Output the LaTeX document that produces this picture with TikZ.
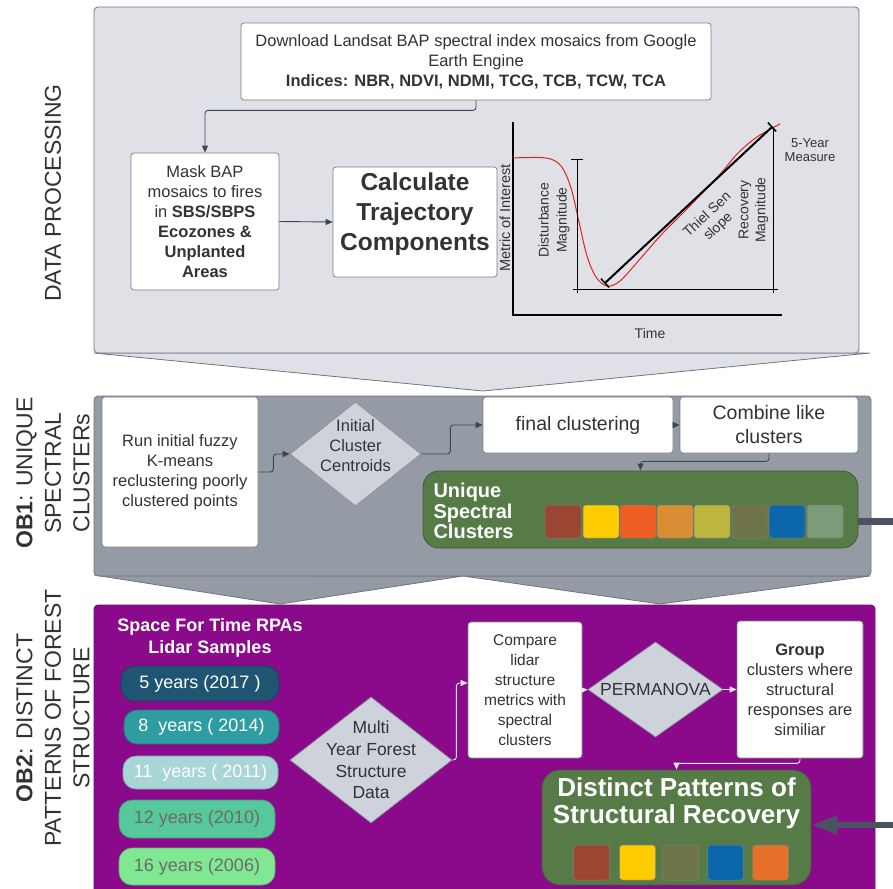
\documentclass[tikz,border=0pt]{standalone}
\usepackage{fontspec}
\setmainfont{Liberation Sans}
\usetikzlibrary{shapes.geometric,arrows.meta,calc}
\definecolor{pone}{HTML}{DFE1E6}
\definecolor{ptwo}{HTML}{959BA5}
\definecolor{pln}{HTML}{6E7580}
\definecolor{purp}{HTML}{8B0A8B}
\definecolor{boxln}{HTML}{7A7F88}
\definecolor{txt}{HTML}{333333}
\definecolor{dialn}{HTML}{8A919C}
\definecolor{diafill}{HTML}{CED3DB}
\definecolor{conln}{HTML}{3E4552}
\definecolor{wline}{HTML}{F0E6F0}
\definecolor{grn}{HTML}{567B47}
\definecolor{grnln}{HTML}{3F5A36}
\definecolor{thickc}{HTML}{4B5262}
\definecolor{curvec}{HTML}{E0221C}
\definecolor{pa}{HTML}{1F5573}\definecolor{pad}{HTML}{163F55}
\definecolor{pb}{HTML}{2E9DA1}\definecolor{pbd}{HTML}{217478}
\definecolor{pc}{HTML}{A8D5D5}\definecolor{pcd}{HTML}{7FA8A8}
\definecolor{pd}{HTML}{56C89B}\definecolor{pdd}{HTML}{3E9A74}
\definecolor{pe}{HTML}{80E892}\definecolor{ped}{HTML}{5DB86E}
\definecolor{ptxt}{HTML}{6B6B6B}
\definecolor{ca}{HTML}{9B4533}
\definecolor{cb}{HTML}{FFCC00}
\definecolor{cc}{HTML}{EE5E24}
\definecolor{cd}{HTML}{D98D34}
\definecolor{ce}{HTML}{BDB63E}
\definecolor{cf}{HTML}{6F7448}
\definecolor{cg}{HTML}{0B66AB}
\definecolor{ch}{HTML}{7B9B79}
\definecolor{ci}{HTML}{E4702A}
\newcommand\fsz[2]{\fontsize{#1}{#2}\selectfont}
\begin{document}
\begin{tikzpicture}[x=1pt,y=-1pt,
  every node/.style={text=txt},
  box/.style={draw=boxln, fill=white, rounded corners=3pt, inner sep=0pt, align=center, line width=0.7pt},
  sz/.style 2 args={minimum width=#1pt, minimum height=#2pt},
  dia/.style={diamond, draw=dialn, fill=diafill, inner sep=0pt, line width=0.7pt},
  conn/.style={draw=conln, line width=0.9pt, rounded corners=3pt, -{Triangle[length=7pt,width=6pt]}},
  wconn/.style={conn, draw=wline},
  pill/.style={rounded corners=13pt, inner sep=0pt, line width=0.7pt, font=\fsz{18}{20}},
  sq/.style={minimum width=36pt, minimum height=33pt, rounded corners=3pt, inner sep=0pt, draw=black!50, line width=0.5pt},
  greenbox/.style={fill=grn, draw=grnln, rounded corners=16pt, line width=0.8pt, inner sep=0pt},
  side/.style={rotate=90, align=center, font=\fsz{23}{28.5}, text=txt},
]
\useasboundingbox (0,0) rectangle (893,888);
\fill[white] (0,0) rectangle (893,888);

% ---------- panels
\filldraw[fill=pone, draw=pln, line width=0.8pt] (94,353) -- (483,391) -- (870,353) -- cycle;
\filldraw[fill=pone, draw=pln, line width=0.8pt, rounded corners=4pt] (94,7) rectangle (859,353);

\filldraw[fill=ptwo, draw=pln, line width=0.8pt] (94,575) -- (280,604) -- (463,576) -- cycle;
\filldraw[fill=ptwo, draw=pln, line width=0.8pt] (463,576) -- (660,604) -- (870,576) -- cycle;
\filldraw[fill=ptwo, draw=pln, line width=0.8pt, rounded corners=4pt] (94,396) rectangle (871,576);

\filldraw[fill=purp, draw=purp!80!black, line width=0.8pt, rounded corners=4pt] (94,605) rectangle (875,900);

% ---------- side titles
\node[side] (tdp) at (53,193) {DATA PROCESSING};
\node[side] (tob1) at (53,473) {\textbf{OB1}: UNIQUE\\SPECTRAL\\CLUSTERs};
\node[side] (tob2) at (53,718) {\textbf{OB2}: DISTINCT\\PATTERNS OF FOREST\\STRUCTURE};

% ---------- data processing
\node[box, sz={470}{77}, font=\fsz{16.5}{20}] (dl) at (476,61.5) {Download Landsat BAP spectral index mosaics from Google\\Earth Engine\\\textbf{Indices: NBR, NDVI, NDMI, TCG, TCB, TCW, TCA}};
\node[box, sz={148}{137}, font=\fsz{16.5}{20}] (mask) at (205,221.5) {Mask BAP\\mosaics to fires\\in \textbf{SBS/SBPS}\\\textbf{Ecozones \&}\\\textbf{Unplanted}\\\textbf{Areas}};
\node[box, sz={164}{110}] (calc) at (415,222) {};
\node[align=center, font=\bfseries\fsz{24.5}{30}] (calct) at (415,214) {Calculate\\Trajectory\\Components};
\draw[conn] (dl.south) -- ++(0,10) -| (mask.north);
\draw[conn] (mask.east) -- (calc.west);

% graph
\draw[line width=1.8pt, black] (513,122) -- (513,315) -- (782,315);
\draw[curvec, line width=1pt] plot[smooth, tension=0.55] coordinates {(513,158) (546,158) (561,166) (571,188) (579,222) (587,256) (596,277) (607,286) (620,281) (640,259) (662,234) (685,211) (705,190) (722,172) (738,153) (757,137) (780,124)};
\draw[line width=1pt, black] (571,159) -- (583,159) (577,159) -- (577,293) (573,289) -- (778,289) (773,127) -- (773,293);
\draw[line width=2pt, black] (605,283) -- (772,127);
\draw[line width=1.5pt, black] (600.9,278.6) -- (609.1,287.4) (767.9,122.6) -- (776.1,131.4);
\node[rotate=90, font=\fsz{14.5}{16}] (gy) at (505,218) {Metric of Interest};
\node[rotate=90, align=center, font=\fsz{14}{18}] (gd) at (554,220) {Disturbance\\Magnitude};
\node[rotate=90, align=center, font=\fsz{14}{17}] (gr) at (753.5,210) {Recovery\\Magnitude};
\node[rotate=43, align=center, font=\fsz{14}{16}] (gt) at (713,221) {Thiel Sen\\slope};
\node[align=center, font=\fsz{13}{14}] (g5) at (810,150) {5-Year\\Measure};
\node[font=\fsz{14}{16}] (gtime) at (650,333) {Time};

% ---------- OB1
\node[box, sz={156}{150}, font=\fsz{16.5}{20}] (run) at (180,472) {Run initial fuzzy\\K-means\\reclustering poorly\\clustered points};
\node[dia, minimum width=131pt, minimum height=104pt] (init) at (355.5,454) {};
\node[align=center, font=\fsz{16.5}{20}] (initt) at (355.5,446) {Initial\\Cluster\\Centroids};
\node[box, sz={190}{56}, font=\fsz{19.5}{24}] (final) at (578,425) {final clustering};
\node[box, sz={178}{56}, font=\fsz{19.5}{24}] (comb) at (769,425) {Combine like\\clusters};
\node[greenbox, sz={435}{77}] (uniq) at (640.5,509.5) {};
\node[anchor=west, align=left, text=white, font=\bfseries\fsz{20}{20.5}] (uniqt) at (430,511) {Unique\\Spectral\\Clusters};
\node[sq, fill=ca] (s1) at (563,521.5) {};
\node[sq, fill=cb] (s2) at (601,521.5) {};
\node[sq, fill=cc] (s3) at (638,521.5) {};
\node[sq, fill=cd] (s4) at (675,521.5) {};
\node[sq, fill=ce] (s5) at (712,521.5) {};
\node[sq, fill=cf] (s6) at (750,521.5) {};
\node[sq, fill=cg] (s7) at (787,521.5) {};
\node[sq, fill=ch] (s8) at (825,521.5) {};
\draw[conn] (run.east) -- ++(15,0) |- (init.west);
\draw[conn] (init.east) -- ++(29,0) |- (final.west);
\draw[conn] (final.east) -- (comb.west);
\draw[conn] (comb.south) -- ++(0,8) -| (uniq.north);
\coordinate (rt1) at (893,521.5);
\draw[line width=7pt, thickc] (uniq.east |- rt1) -- (rt1);

% ---------- OB2
\node[align=center, text=white, font=\bfseries\fsz{18}{22}] (sft) at (210,638) {Space For Time RPAs\\Lidar Samples};
\node[pill, fill=pa, draw=pad, text=white, sz={158}{35}] (y5) at (200,683.5) {5 years (2017 )};
\node[pill, fill=pb, draw=pbd, text=white, sz={155}{34}] (y8) at (201.5,727) {8\ \ years ( 2014)};
\node[pill, fill=pc, draw=pcd, text=white, sz={155}{33}] (y11) at (200.5,772.5) {11\ \ years ( 2011)};
\node[pill, fill=pd, draw=pdd, text=ptxt, sz={156}{38}] (y12) at (197,819) {12 years (2010)};
\node[pill, fill=pe, draw=ped, text=ptxt, sz={156}{37}] (y16) at (197,866.5) {16 years (2006)};
\node[dia, minimum width=162pt, minimum height=126pt] (multi) at (371,760) {};
\node[align=center, font=\fsz{17.5}{21.7}] (multit) at (371,760) {Multi\\Year Forest\\Structure\\Data};
\node[box, sz={114}{136}, font=\fsz{15.5}{20}] (cmp) at (525,690) {Compare\\lidar\\structure\\metrics with\\spectral\\clusters};
\node[dia, minimum width=135pt, minimum height=95pt] (perm) at (655.5,689.5) {};
\node[font=\fsz{17.5}{20}] (permt) at (655.5,689.5) {PERMANOVA};
\node[box, sz={126}{137}, font=\fsz{16.5}{20}] (grp) at (800,689.5) {\textbf{Group}\\clusters where\\structural\\responses are\\similiar};
\node[greenbox, rounded corners=18pt, sz={269}{115}] (dist) at (676.5,827.5) {};
\node[align=center, text=white, font=\bfseries\fsz{26}{27}] (distt) at (676.5,803) {Distinct Patterns of\\Structural Recovery};
\node[sq, fill=ca, minimum height=35pt] (t1) at (591.5,862.5) {};
\node[sq, fill=cb, minimum height=35pt] (t2) at (637.5,862.5) {};
\node[sq, fill=cf, minimum height=35pt] (t3) at (680.5,862.5) {};
\node[sq, fill=cg, minimum height=35pt] (t4) at (725.5,862.5) {};
\node[sq, fill=ci, minimum height=35pt] (t5) at (770.5,862.5) {};
\draw[wconn] (multi.east) -- ++(4,0) |- ([yshift=7pt]cmp.west);
\draw[wconn] (cmp.east) -- (perm.west);
\draw[wconn] (perm.east) -- (grp.west);
\draw[wconn] (grp.south) -- ++(0,5) -| (dist.north);
\coordinate (rt2) at (893,825);
\draw[line width=6pt, thickc, -{Triangle[length=26pt,width=18pt]}] (rt2) -- (dist.east |- rt2);
\end{tikzpicture}
\end{document}
